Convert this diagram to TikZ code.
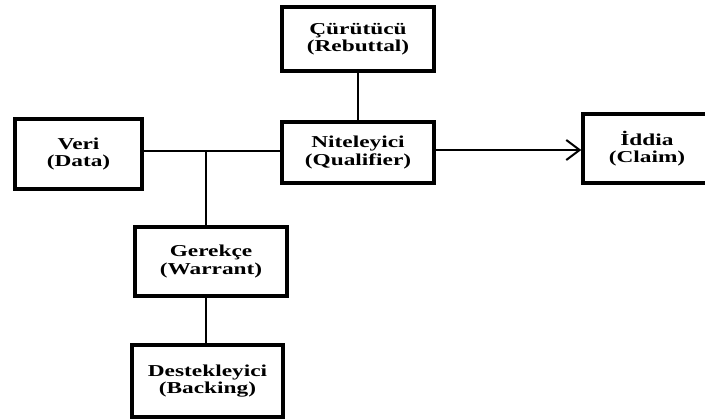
\documentclass[tikz,border=0pt]{standalone}
\usepackage{fontspec}
\setmainfont{Liberation Serif}[FakeStretch=1.4]
\usetikzlibrary{arrows.meta}
\tikzset{
  box/.style={draw, line width=2.6pt, rectangle, align=center, inner sep=0pt,
    font=\fontsize{12.5}{12.8}\selectfont\bfseries},
  conn/.style={line width=1.5pt}
}
\begin{document}
\begin{tikzpicture}[x=0.75pt, y=-0.75pt]
\useasboundingbox (0,0) rectangle (705,420);
\clip (0,0) rectangle (705,420);
\node[box, minimum width=152*0.75pt, minimum height=64*0.75pt] (reb) at (358,39) {Çürütücü\\(Rebuttal)};
\node[box, minimum width=127*0.75pt, minimum height=70*0.75pt] (data) at (78.5,154) {Veri\\(Data)};
\node[box, minimum width=152*0.75pt, minimum height=61*0.75pt] (qual) at (358,152.5) {Niteleyici\\(Qualifier)};
\node[box, minimum width=128*0.75pt, minimum height=69*0.75pt] (claim) at (647,148.5) {İddia\\(Claim)};
\node[box, minimum width=152*0.75pt, minimum height=69*0.75pt] (war) at (211,261.5) {Gerekçe\\(Warrant)};
\node[box, minimum width=151*0.75pt, minimum height=72*0.75pt] (back) at (207.5,381) {Destekleyici\\(Backing)};
\coordinate (j) at (206,151);
\draw[conn] (data.east |- j) -- (qual.west |- j);
\draw[conn] (j) -- (j |- war.north);
\draw[conn] (j |- war.south) -- (j |- back.north);
\draw[conn] (reb.south) -- (qual.north);
\draw[conn, -{Straight Barb[length=10pt, width=15pt, line width=1.5pt]}] (qual.east |- 0,150) -- (claim.west |- 0,150);
\end{tikzpicture}
\end{document}
